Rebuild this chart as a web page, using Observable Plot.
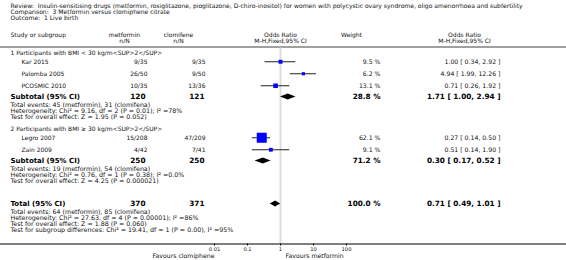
<!DOCTYPE html>
<html><head><meta charset="utf-8">
<script src="https://cdn.jsdelivr.net/npm/d3@7"></script>
<script src="https://cdn.jsdelivr.net/npm/@observablehq/plot@0.6"></script>
<style>html,body{margin:0;padding:0;background:#fff} svg{display:block}</style>
</head><body><div id="chart"></div>
<script>
// ---------------- data ----------------
const titleLines = [
  "Review:  Insulin-sensitising drugs (metformin, rosiglitazone, pioglitazone, D-chiro-inositol) for women with polycystic ovary syndrome, oligo amenorrhoea and subfertility",
  "Comparison:  3 Metformin versus clomiphene citrate",
  "Outcome:  1 Live birth"
];
const studyNames = ["Kar 2015", "Palomba 2005", "PCOSMIC 2010", "Legro 2007", "Zain 2009"];
const studyGroup = [0, 0, 0, 1, 1];
const metEvents = [9, 26, 10, 15, 4];
const metTotal = [35, 50, 35, 208, 42];
const cloEvents = [9, 9, 13, 47, 7];
const cloTotal = [35, 50, 36, 209, 41];
const studyOR = [1.00, 4.94, 0.71, 0.27, 0.51];
const studyLo = [0.34, 1.99, 0.26, 0.14, 0.14];
const studyHi = [2.92, 12.26, 1.92, 0.50, 1.90];
const studyWeight = [9.5, 6.2, 13.1, 62.1, 9.1];

const groupLabels = ["1 Participants with BMI < 30 kg/m<SUP>2</SUP>", "2 Participants with BMI \u2265 30 kg/m<SUP>2</SUP>"];
const subLabels = ["Subtotal (95% CI)", "Subtotal (95% CI)", "Total (95% CI)"];
const subMetTotal = [120, 250, 370];
const subCloTotal = [121, 250, 371];
const subWeight = [28.8, 71.2, 100.0];
const subOR = [1.71, 0.30, 0.71];
const subLo = [1.00, 0.17, 0.49];
const subHi = [2.94, 0.52, 1.01];
const subNotes = [
  ["Total events: 45 (metformin), 31 (clomifena)",
   "Heterogeneity: Chi\u00B2 = 9.16, df = 2 (P = 0.01); I\u00B2 =78%",
   "Test for overall effect: Z = 1.95 (P = 0.052)"],
  ["Total events: 19 (metformin), 54 (clomifena)",
   "Heterogeneity: Chi\u00B2 = 0.76, df = 1 (P = 0.38); I\u00B2 =0.0%",
   "Test for overall effect: Z = 4.25 (P = 0.000021)"],
  ["Total events: 64 (metformin), 85 (clomifena)",
   "Heterogeneity: Chi\u00B2 = 27.63, df = 4 (P = 0.00001); I\u00B2 =86%",
   "Test for overall effect: Z = 1.88 (P = 0.060)",
   "Test for subgroup differences: Chi\u00B2 = 19.41, df = 1 (P = 0.00), I\u00B2 =95%"]
];
const headerTop = ["Study or subgroup", "metformin", "clomifene", "Odds Ratio", "Weight", "Odds Ratio"];
const headerBottom = ["", "n/N", "n/N", "M-H,Fixed,95% CI", "", "M-H,Fixed,95% CI"];
const axisTicks = [0.01, 0.1, 1, 10, 100];
const favoursLabels = ["Favours clomiphene", "Favours metformin"];

// ---------------- layout ----------------
const FONT = "DejaVu Sans";
const W = 566, H = 260;
const COL = {left: 10, study: 21, met: 147, clo: 205, metB: 145, cloB: 204, weight: 380, orText: 500,
             metHead: 124, cloHead: 178, weightHead: 351, orHead: 464};
const Y = {title0: 5.5, titleStep: 6, head1: 34.5, head2: 40.5, headLine: 46.5, axis: 243.5, tickLab: 249, favours: 256};
const GAP = {group1: 53, firstStudy: 8.25, studyStep: 12, sub: 11.25, noteFirst: 8, noteStep: 6, nextGroup: 12.5, total: 23, totalNoteFirst: 7.5};
const FS = {title: 6.05, head: 6.0, body: 6.0, num: 6.2, note: 6.3, bold: 7.0, boldNum: 7.3, tick: 5.2, fav: 6.2};

const fmt2 = v => v.toFixed(2);
const ciText = (e, l, h) => `${fmt2(e)} [ ${fmt2(l)}, ${fmt2(h)} ]`;

const titleRows = titleLines.map((t, i) => ({text: t, y: Y.title0 + i * Y.titleStep}));
const groupRows = [], studyRows = [], subRows = [], noteRows = [];
let yc = GAP.group1;
for (let g = 0; g < 2; g++) {
  groupRows.push({text: groupLabels[g], y: yc});
  let first = true;
  studyNames.forEach((n, i) => {
    if (studyGroup[i] !== g) return;
    yc += first ? GAP.firstStudy : GAP.studyStep; first = false;
    studyRows.push({name: n, met: `${metEvents[i]}/${metTotal[i]}`, clo: `${cloEvents[i]}/${cloTotal[i]}`,
      or: studyOR[i], lo: studyLo[i], hi: studyHi[i], w: studyWeight[i],
      wText: `${studyWeight[i].toFixed(1)} %`, ci: ciText(studyOR[i], studyLo[i], studyHi[i]), y: yc});
  });
  yc += GAP.sub;
  subRows.push({k: g, y: yc});
  yc += GAP.noteFirst;
  subNotes[g].forEach((t, j) => noteRows.push({text: t, y: yc + j * GAP.noteStep}));
  yc += (subNotes[g].length - 1) * GAP.noteStep;
  if (g === 0) yc += GAP.nextGroup;
}
yc += GAP.total;
subRows.push({k: 2, y: yc});
yc += GAP.totalNoteFirst;
subNotes[2].forEach((t, j) => noteRows.push({text: t, y: yc + j * GAP.noteStep}));

subRows.forEach(s => {
  s.label = subLabels[s.k];
  s.met = String(subMetTotal[s.k]);
  s.clo = String(subCloTotal[s.k]);
  s.wText = `${subWeight[s.k].toFixed(1)} %`;
  s.ci = ciText(subOR[s.k], subLo[s.k], subHi[s.k]);
});
const diamondPts = subRows.flatMap(s => [
  {k: s.k, x: subLo[s.k], y1: s.y, y2: s.y},
  {k: s.k, x: subOR[s.k], y1: s.y - 3, y2: s.y + 3},
  {k: s.k, x: subHi[s.k], y1: s.y, y2: s.y}
]);
const headRows = headerTop.map((t, i) => ({top: t, bottom: headerBottom[i], i}));

const txt = (data, opts) => Plot.text(data, {frameAnchor: "left", fill: "#111", fontSize: FS.body, ...opts});
const boldTxt = (data, opts) => txt(data, {fontWeight: "bold", fill: "#000", fontSize: FS.bold, ...opts});

const chart = Plot.plot({
  width: W, height: H,
  marginTop: 0, marginRight: 0, marginBottom: 0, marginLeft: 0,
  style: {fontFamily: FONT, background: "#fff"},
  x: {type: "log", domain: [0.01, 100], range: [214, 346], axis: null},
  y: {type: "linear", domain: [0, H], range: [0, H], axis: null},
  r: {type: "sqrt", domain: [0, 62.1], range: [0, 5.64]},
  marks: [
    // titles
    txt(titleRows, {y: "y", text: "text", dx: COL.left, textAnchor: "start", fontSize: FS.title}),
    // header
    txt([headRows[0]], {y: () => Y.head1, text: "top", dx: COL.left, textAnchor: "start", fontSize: FS.head}),
    txt([headRows[1]], {y: () => Y.head1, text: "top", dx: COL.metHead, textAnchor: "middle", fontSize: FS.head}),
    txt([headRows[1]], {y: () => Y.head2, text: "bottom", dx: COL.metHead, textAnchor: "middle", fontSize: FS.head}),
    txt([headRows[2]], {y: () => Y.head1, text: "top", dx: COL.cloHead, textAnchor: "middle", fontSize: FS.head}),
    txt([headRows[2]], {y: () => Y.head2, text: "bottom", dx: COL.cloHead, textAnchor: "middle", fontSize: FS.head}),
    Plot.text([headRows[3]], {x: () => 1, y: () => Y.head1, text: "top", fontSize: FS.head, fill: "#111"}),
    Plot.text([headRows[3]], {x: () => 1, y: () => Y.head2, text: "bottom", fontSize: FS.head, fill: "#111"}),
    txt([headRows[4]], {y: () => Y.head1, text: "top", dx: COL.weightHead, textAnchor: "middle", fontSize: FS.head}),
    txt([headRows[5]], {y: () => Y.head1, text: "top", dx: COL.orHead, textAnchor: "middle", fontSize: FS.head}),
    txt([headRows[5]], {y: () => Y.head2, text: "bottom", dx: COL.orHead, textAnchor: "middle", fontSize: FS.head}),
    Plot.ruleY([Y.headLine], {stroke: "#a0a0a0", strokeWidth: 2}),
    // null line
    Plot.ruleX([1], {y1: Y.headLine + 1, y2: Y.axis, stroke: "#dddddd", strokeWidth: 2}),
    // group labels
    txt(groupRows, {y: "y", text: "text", dx: COL.left, textAnchor: "start"}),
    // study rows
    txt(studyRows, {y: "y", text: "name", dx: COL.study, textAnchor: "start"}),
    txt(studyRows, {y: "y", text: "met", dx: COL.met, textAnchor: "end"}),
    txt(studyRows, {y: "y", text: "clo", dx: COL.clo, textAnchor: "end"}),
    txt(studyRows, {y: "y", text: "wText", dx: COL.weight, textAnchor: "end", fontSize: FS.num}),
    txt(studyRows, {y: "y", text: "ci", dx: COL.orText, textAnchor: "end", fontSize: FS.num}),
    Plot.ruleY(studyRows, {y: "y", x1: "lo", x2: "hi", stroke: "#222", strokeWidth: 1}),
    Plot.dot(studyRows, {x: "or", y: "y", r: "w", symbol: "square", fill: "#0000ff", stroke: null}),
    // subtotals
    boldTxt(subRows, {y: "y", text: "label", dx: COL.left, textAnchor: "start"}),
    boldTxt(subRows, {y: "y", text: "met", dx: COL.metB, textAnchor: "end", fontSize: FS.boldNum}),
    boldTxt(subRows, {y: "y", text: "clo", dx: COL.cloB, textAnchor: "end", fontSize: FS.boldNum}),
    boldTxt(subRows, {y: "y", text: "wText", dx: COL.weight, textAnchor: "end", fontSize: FS.boldNum}),
    boldTxt(subRows, {y: "y", text: "ci", dx: COL.orText, textAnchor: "end", fontSize: FS.boldNum}),
    Plot.areaY(diamondPts, {x: "x", y1: "y1", y2: "y2", z: "k", fill: "#000"}),
    // notes
    txt(noteRows, {y: "y", text: "text", dx: COL.left, textAnchor: "start", fontSize: FS.note}),
    // axis
    Plot.ruleY([Y.axis], {stroke: "#000", strokeWidth: 1}),
    Plot.ruleX(axisTicks, {x: d => d, y1: Y.axis, y2: Y.axis + 2, stroke: "#000"}),
    Plot.text(axisTicks, {x: d => d, y: () => Y.tickLab, text: d => String(d), fontSize: FS.tick, fill: "#111"}),
    Plot.text([favoursLabels[0]], {x: () => axisTicks[0], y: () => Y.favours, text: d => d, textAnchor: "end", fontSize: FS.fav, fill: "#111"}),
    Plot.text([favoursLabels[1]], {x: () => axisTicks[2], y: () => Y.favours, text: d => d, textAnchor: "start", dx: 5, fontSize: FS.fav, fill: "#111"})
  ]
});
document.getElementById("chart").appendChild(chart);
</script>
</body></html>
